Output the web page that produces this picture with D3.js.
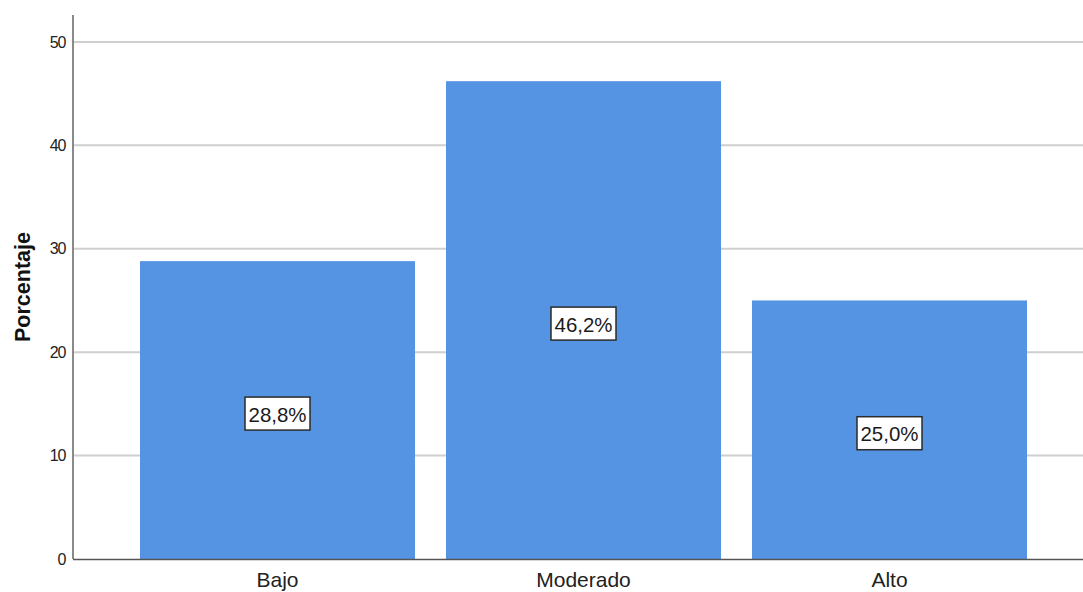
<!DOCTYPE html>
<html>
<head>
<meta charset="utf-8">
<script src="https://cdn.jsdelivr.net/npm/d3@7/dist/d3.min.js"></script>
<style>
  html, body { margin: 0; padding: 0; background: #fff; }
  svg { display: block; font-family: "Liberation Sans", Arial, sans-serif; }
</style>
</head>
<body>
<svg id="chart" width="1083" height="592"></svg>
<script>
const categories = ["Bajo", "Moderado", "Alto"];
const values = [28.8, 46.2, 25.0];
const valueLabels = ["28,8%", "46,2%", "25,0%"];
const yTicks = [0, 10, 20, 30, 40, 50];
const yTitle = "Porcentaje";

const svg = d3.select("#chart");
const plotLeft = 74, plotRight = 1083, plotTop = 15, plotBottom = 559;

const y = d3.scaleLinear().domain([0, 52.6]).range([plotBottom, plotTop]);
const x = d3.scaleBand().domain(categories)
  .range([plotLeft, 1093])
  .paddingInner(31 / 306)
  .paddingOuter(0.2157);

// gridlines
svg.append("g").selectAll("line").data(yTicks.filter(d => d > 0)).join("line")
  .attr("x1", plotLeft).attr("x2", plotRight)
  .attr("y1", d => y(d)).attr("y2", d => y(d))
  .attr("stroke", "#cfcfcf").attr("stroke-width", 2);

// bars
svg.append("g").selectAll("rect").data(values).join("rect")
  .attr("x", (d, i) => x(categories[i]))
  .attr("width", x.bandwidth())
  .attr("y", d => y(d))
  .attr("height", d => y(0) - y(d))
  .attr("fill", "#5594e3");

// y axis
const yAxis = d3.axisLeft(y).tickValues(yTicks).tickSize(0).tickPadding(8).tickFormat(d3.format("d"));
const gy = svg.append("g").attr("transform", `translate(${plotLeft - 0.5},0)`).call(yAxis);
gy.select(".domain").remove();
gy.selectAll("text").attr("font-size", 16).attr("letter-spacing", "-1px").attr("fill", "#222")
  .attr("font-family", "'Liberation Sans', Arial, sans-serif");
svg.append("line").attr("x1", plotLeft - 1).attr("x2", plotLeft - 1)
  .attr("y1", plotTop).attr("y2", plotBottom)
  .attr("stroke", "#8a8a8a").attr("stroke-width", 2);

// x axis
const xAxis = d3.axisBottom(x).tickSize(0).tickPadding(10);
const gx = svg.append("g").attr("transform", `translate(0,${plotBottom})`).call(xAxis);
gx.select(".domain").remove();
gx.selectAll("text").attr("font-size", 21).attr("fill", "#222")
  .attr("font-family", "'Liberation Sans', Arial, sans-serif")
  .attr("dy", "0.85em");
svg.append("line").attr("x1", plotLeft - 1).attr("x2", plotRight)
  .attr("y1", plotBottom + 0.5).attr("y2", plotBottom + 0.5)
  .attr("stroke", "#555").attr("stroke-width", 1.5);

// y title
svg.append("text")
  .attr("transform", `translate(30,287) rotate(-90)`)
  .attr("text-anchor", "middle")
  .attr("font-size", 21.5).attr("font-weight", "bold").attr("fill", "#111")
  .text(yTitle);

// value labels
const lab = svg.append("g").selectAll("g").data(values).join("g")
  .attr("transform", (d, i) => `translate(${x(categories[i]) + x.bandwidth() / 2},${y(d / 2) + 3.5})`);
lab.append("rect")
  .attr("x", -32.5).attr("y", -16.5).attr("width", 65).attr("height", 33)
  .attr("fill", "#fff").attr("stroke", "#2b2b2b").attr("stroke-width", 1.5);
lab.append("text")
  .attr("text-anchor", "middle").attr("y", 8)
  .attr("font-size", 21).attr("fill", "#1a1a1a")
  .attr("textLength", 58).attr("lengthAdjust", "spacingAndGlyphs")
  .text((d, i) => valueLabels[i]);
</script>
</body>
</html>
